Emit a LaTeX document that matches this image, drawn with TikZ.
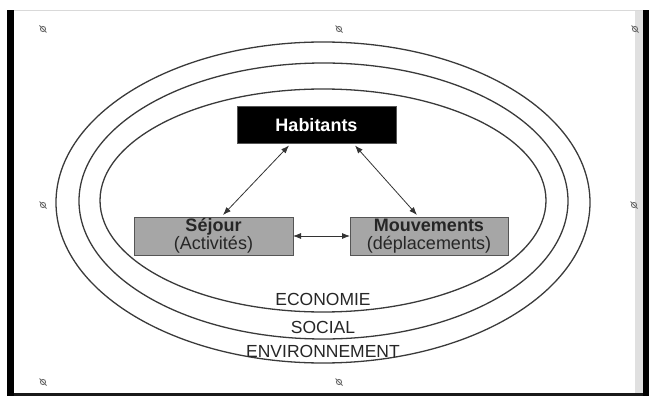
\documentclass[tikz,border=0pt]{standalone}
\usepackage{fontspec}
\setmainfont{Liberation Sans}
\usetikzlibrary{arrows.meta}
\definecolor{grisanneau}{RGB}{58,58,58}
\definecolor{grisboite}{RGB}{166,166,166}
\definecolor{grisbord}{RGB}{85,85,85}
\definecolor{grispoignee}{RGB}{110,110,110}

\tikzset{
  anneau/.style={draw=grisanneau, line width=1.3pt},
  pole/.style={draw=grisbord, line width=1pt, inner sep=0pt, outer sep=0pt,
    minimum width=159pt, minimum height=38pt, align=center,
    font=\fontsize{18}{18.5}\selectfont, text=black!85},
  fleche/.style={{Latex[length=8pt,width=6pt]}-{Latex[length=8pt,width=6pt]}, line width=0.8pt, black!80},
  sphere/.style={font=\fontsize{17.5}{20}\selectfont, text=black!85, inner sep=0pt}
}

\begin{document}
\begin{tikzpicture}[x=1pt,y=-1pt]
			\useasboundingbox (0,0) rectangle (649,396);
			% cadre
			\fill[black] (7,10) rectangle (14,396);
			\fill[black!12] (635,10) rectangle (643,396);
			\fill[black] (643,10) rectangle (649,396);
			\fill[black!90] (14,393) rectangle (643,396);
			\draw[black!15, line width=0.8pt] (14,10.4) -- (643,10.4);
			% poignees
			\foreach \px/\py in {43/29, 339/29, 635/29, 43/205, 634/205, 43/382, 339/382}
				{\draw[grispoignee, line width=0.9pt] (\px,\py) circle (2.6pt);
				 \draw[grispoignee, line width=0.9pt] (\px-3.5,\py-3.5) -- (\px+3.5,\py+3.5);}
			% anneaux
			\draw[anneau] (323,202.5) ellipse [x radius=267pt, y radius=160.5pt];
			\draw[anneau] (323.5,201) ellipse [x radius=244.5pt, y radius=138pt];
			\draw[anneau] (323,200.5) ellipse [x radius=223pt, y radius=111.5pt];
			% boites
			\node[pole, fill=black, minimum height=37pt, text=white] (hab) at (316.5,125.5) {\bfseries Habitants};
			\node[pole, fill=grisboite] (sej) at (213.5,236) {\bfseries S\'ejour\\(Activit\'es)};
			\node[pole, fill=grisboite, minimum width=158pt] (mouv) at (429,236) {\bfseries Mouvements\\(d\'eplacements)};
			\draw[fleche] ([xshift=52pt,yshift=-1.5pt]hab.south west) -- ([xshift=89pt,yshift=2pt]sej.north west);
			\draw[fleche] ([xshift=118pt,yshift=-1.5pt]hab.south west) -- ([xshift=67pt,yshift=2pt]mouv.north west);
			\draw[fleche] (sej.east) -- (mouv.west);
			% spheres
			\node[sphere] (eco) at (323,299.5) {ECONOMIE};
			\node[sphere] (soc) at (323,327.5) {SOCIAL};
			\node[sphere] (env) at (323,351) {ENVIRONNEMENT};
		\end{tikzpicture}
\end{document}
